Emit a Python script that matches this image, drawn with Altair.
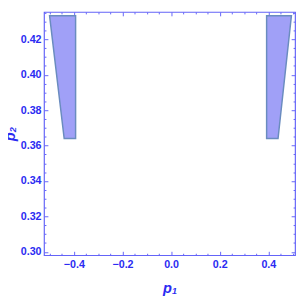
import altair as alt
import pandas as pd

# Region vertices: each region is a quadrilateral
region = ["left", "left", "right", "right"]
p2_level = [0.3640, 0.4333, 0.3640, 0.4333]
p1_from = [-0.440, -0.500, 0.393, 0.393]
p1_to = [-0.393, -0.393, 0.440, 0.495]

x_major = [-0.4, -0.2, 0.0, 0.2, 0.4]
x_minor = [-0.5, -0.45, -0.35, -0.3, -0.25, -0.15, -0.1, -0.05,
           0.05, 0.1, 0.15, 0.25, 0.3, 0.35, 0.45, 0.5]
y_major = [0.30, 0.32, 0.34, 0.36, 0.38, 0.40, 0.42]
y_minor = [0.305, 0.31, 0.315, 0.325, 0.33, 0.335, 0.345, 0.35, 0.355,
           0.365, 0.37, 0.375, 0.385, 0.39, 0.395, 0.405, 0.41, 0.415,
           0.425, 0.43, 0.435]

df = pd.DataFrame({"region": region, "p2": p2_level, "x1": p1_from, "x2": p1_to})

XDOM = [-0.523, 0.51]
YDOM = [0.2981, 0.4355]
BLUE_TXT = "#2b2bf2"
AX = "#6464f8"
FONT = "Liberation Sans"

xs = alt.Scale(domain=XDOM, nice=False, zero=False)
ys = alt.Scale(domain=YDOM, nice=False, zero=False)


def tick_axis(orient, values, size):
    return alt.Axis(orient=orient, values=values, labels=False, title=None,
                    domain=False, grid=False, ticks=True, tickSize=size,
                    offset=-size, tickColor=AX, tickWidth=1)


area = alt.Chart(df).mark_area(
    orient="horizontal", fill="#a0a0f7", stroke="#6a8cbf", strokeWidth=1.5
).encode(
    y=alt.Y("p2:Q", scale=ys, axis=alt.Axis(
        orient="left", values=y_major, format=".2f", ticks=False, domain=False,
        grid=False, labelPadding=3, labelFont=FONT, labelFontWeight="bold",
        labelFontSize=11, labelColor=BLUE_TXT, title="p₂", titleFont=FONT,
        titleFontStyle="italic", titleFontWeight="bold", titleFontSize=15,
        titleColor=BLUE_TXT, titlePadding=3)),
    x=alt.X("x1:Q", scale=xs, axis=alt.Axis(
        orient="bottom", values=x_major, format=".1f", ticks=False, domain=False,
        grid=False, labelPadding=4, labelFont=FONT, labelFontWeight="bold",
        labelFontSize=11, labelColor=BLUE_TXT, title="p₁", titleFont=FONT,
        titleFontStyle="italic", titleFontWeight="bold", titleFontSize=15,
        titleColor=BLUE_TXT, titlePadding=11)),
    x2="x2:Q",
    detail="region:N",
)

layers = [area]
for xo, yo in [("bottom", "left"), ("top", "right")]:
    for xv, yv, sz in [(x_major, y_major, 4), (x_minor, y_minor, 2)]:
        layers.append(
            alt.Chart(df).mark_point(opacity=0).encode(
                x=alt.X("x1:Q", scale=xs, axis=tick_axis(xo, xv, sz)),
                y=alt.Y("p2:Q", scale=ys, axis=tick_axis(yo, yv, sz)),
            )
        )

chart = alt.layer(*layers).resolve_axis(
    x="independent", y="independent"
).properties(
    width=258, height=250,
    autosize=alt.AutoSizeParams(type="none"),
    padding={"left": 37, "top": 0, "right": 2, "bottom": 43},
).configure_view(
    stroke=AX, strokeWidth=1.2
)

chart.save("out.html", embed_options={"renderer": "svg", "actions": False})
